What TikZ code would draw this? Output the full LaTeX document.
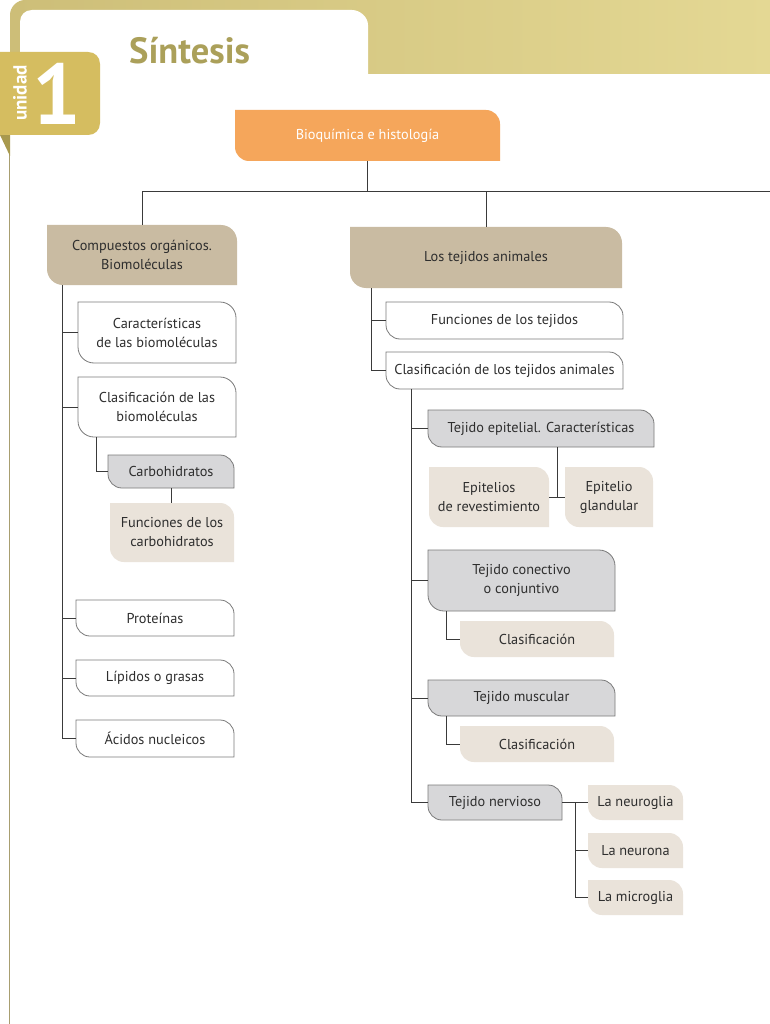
\documentclass[tikz,border=0pt]{standalone}
\usepackage{fontspec}
\setmainfont{PT Sans}
\usetikzlibrary{calc}
\definecolor{khakiA}{HTML}{CDBE78}
\definecolor{khakiB}{HTML}{E4D894}
\definecolor{unid}{HTML}{D5BD60}
\definecolor{fold}{HTML}{A8994E}
\definecolor{frameline}{HTML}{A89E70}
\definecolor{sint}{HTML}{ABA05A}
\definecolor{orangeb}{HTML}{F5A65B}
\definecolor{tanb}{HTML}{C9BBA2}
\definecolor{grayb}{HTML}{D7D7D9}
\definecolor{beigeb}{HTML}{EAE3DA}
\definecolor{edge}{HTML}{7A7A7A}
\definecolor{txt}{HTML}{2E2E2E}
\definecolor{lnc}{HTML}{3A3A3A}
\tikzset{
  boxtext/.style={font=\fontsize{14.3}{19}\selectfont, text=txt, align=center, inner sep=0pt},
  conn/.style={draw=lnc, line width=0.9pt},
  orangefill/.style={fill=orangeb},
  tanfill/.style={fill=tanb},
  whitefill/.style={fill=white, draw=edge, line width=0.8pt},
  grayfill/.style={fill=grayb, draw=edge, line width=0.8pt},
  beigefill/.style={fill=beigeb},
}
% #1 name, #2 fill style, #3 radius, #4 x1, #5 y1, #6 x2, #7 y2, #8 text, #9 extra text style
\newcommand\bx[9]{%
  \path[#2] (#4,#5) -- ({#6-#3},#5) .. controls ({#6-0.448*#3},#5) and (#6,{#5+0.448*#3}) .. (#6,{#5+#3}) -- (#6,#7) -- ({#4+#3},#7) .. controls ({#4+0.448*#3},#7) and (#4,{#7-0.448*#3}) .. (#4,{#7-#3}) -- cycle;
  \node[boxtext, #9, minimum width={#6-#4}, minimum height={#7-#5}] (#1) at ({(#4+#6)/2},{(#5+#7)/2}) {#8};
}
\begin{document}
\begin{tikzpicture}[x=1pt,y=-1pt]
\useasboundingbox (0,0) rectangle (770,1024);
\fill[white] (0,0) rectangle (770,1024);
% header band
\shade[left color=khakiA, right color=khakiB] (10,74) -- (10,15) .. controls (10,7) and (17,0) .. (25,0) -- (770,0) -- (770,74) -- cycle;
\fill[white] (20,78) -- (20,22) .. controls (20,15) and (25,10) .. (32,10) -- (352,10) .. controls (360,10) and (368,17) .. (368,25) -- (368,78) -- cycle;
% page frame line and unit tab
\draw[frameline, line width=1.2pt] (9.5,135) -- (9.5,1024);
\fill[fold] (0,135) -- (10,135) -- (10,156) -- cycle;
\fill[unid] (0,52) -- (88,52) .. controls (95,52) and (100,57) .. (100,64) -- (100,123) .. controls (100,130) and (95,135) .. (88,135) -- (0,135) -- cycle;
\node[rotate=90, text=white, font=\bfseries\fontsize{19}{19}\selectfont, inner sep=0pt] (unidad) at (20,93) {unidad};
\node[text=white, font=\bfseries\fontsize{86}{86}\selectfont, inner sep=0pt] (uno) at (57,94) {1};
\node[anchor=west, text=sint, font=\bfseries\fontsize{36.5}{36.5}\selectfont, inner sep=0pt] (sintesis) at (129,51) {Síntesis};
% boxes
\bx{root}{orangefill}{14}{235}{110}{500}{161}{Bioquímica e histología}{text=white}
\bx{comp}{tanfill}{16}{47}{225}{237}{285}{Compuestos orgánicos.\\Biomoléculas}{}
\bx{tej}{tanfill}{16}{350}{227}{622}{288}{Los tejidos animales}{}
\bx{car}{whitefill}{16}{78}{302}{236}{363}{Características\\de las biomoléculas}{}
\bx{clas}{whitefill}{16}{78}{377}{236}{437}{Clasificación de las\\biomoléculas}{}
\bx{carbo}{grayfill}{14}{108}{455}{234}{488}{Carbohidratos}{}
\bx{fcarb}{beigefill}{14}{110}{503}{234}{562}{Funciones de los\\carbohidratos}{}
\bx{prot}{whitefill}{14}{76}{600}{234}{636}{Proteínas}{}
\bx{lip}{whitefill}{14}{76}{660}{234}{696}{Lípidos o grasas}{}
\bx{acid}{whitefill}{14}{76}{720}{234}{757}{Ácidos nucleicos}{}
\bx{fun}{whitefill}{14}{386}{302}{623}{339}{Funciones de los tejidos}{}
\bx{clat}{whitefill}{14}{386}{352}{623}{389}{Clasificación de los tejidos animales}{}
\bx{epi}{grayfill}{14}{428}{410}{654}{447}{Tejido epitelial. Características}{}
\bx{rev}{beigefill}{14}{429}{467}{549}{527}{Epitelios\\de revestimiento}{}
\bx{gla}{beigefill}{14}{565}{467}{653}{527}{Epitelio\\glandular}{}
\bx{con}{grayfill}{16}{428}{550}{615}{611}{Tejido conectivo\\o conjuntivo}{}
\bx{ccl}{beigefill}{14}{460}{621}{614}{657}{Clasificación}{}
\bx{mus}{grayfill}{14}{428}{680}{615}{716}{Tejido muscular}{}
\bx{mcl}{beigefill}{14}{460}{726}{614}{762}{Clasificación}{}
\bx{ner}{grayfill}{14}{428}{785}{562}{820}{Tejido nervioso}{}
\bx{ng}{beigefill}{14}{588}{785}{683}{820}{La neuroglia}{}
\bx{nn}{beigefill}{14}{588}{833}{683}{868}{La neurona}{}
\bx{nm}{beigefill}{14}{588}{880}{683}{915}{La microglia}{}
% connectors
\coordinate (hR) at (770,191);
\draw[conn] (root.south) -- (root.south |- hR);
\draw[conn] (comp.north) |- (hR);
\draw[conn] (tej.north) -- (tej.north |- hR);
\foreach \t in {car,clas,prot,lip,acid}{\draw[conn] ([xshift=16]comp.south west) |- (\t.west);}
\draw[conn] ([xshift=19]clas.south west) |- (carbo.west);
\draw[conn] (carbo.south) -- (carbo.south |- fcarb.north);
\foreach \t in {fun,clat}{\draw[conn] ([xshift=22]tej.south west) |- (\t.west);}
\foreach \t in {epi,con,mus,ner}{\draw[conn] ([xshift=26]clat.south west) |- (\t.west);}
\coordinate (em) at ($(rev.east)!0.5!(gla.west)$);
\draw[conn] (rev.east) -- (gla.west);
\draw[conn] (em) -- (em |- epi.south);
\draw[conn] ([xshift=19]con.south west) |- (ccl.west);
\draw[conn] ([xshift=19]mus.south west) |- (mcl.west);
\coordinate (nj) at ([xshift=13]ner.east);
\draw[conn] (ner.east) -- (nj);
\foreach \t in {ng,nn,nm}{\draw[conn] (nj) |- (\t.west);}
\end{tikzpicture}
\end{document}
